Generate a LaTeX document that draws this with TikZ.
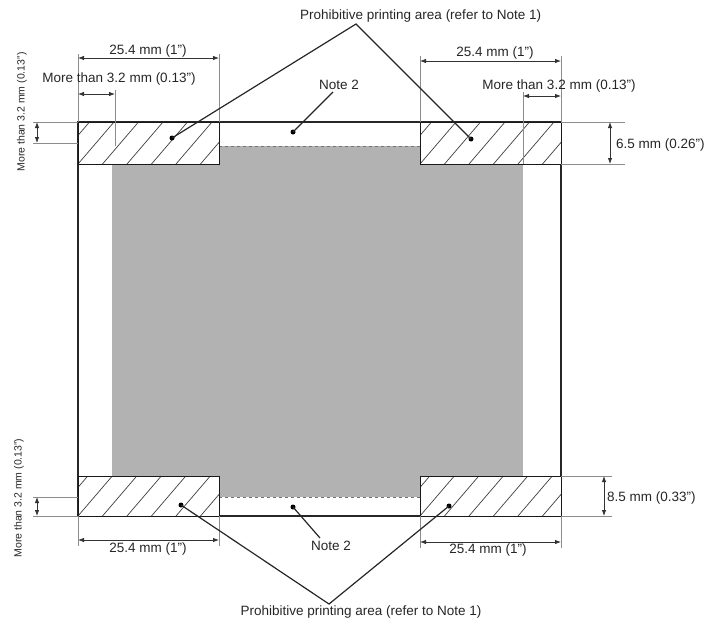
\documentclass[tikz,border=0pt]{standalone}
\usepackage{fontspec}
\setmainfont{Liberation Sans}
\usetikzlibrary{arrows.meta}
\tikzset{
  ext/.style={draw=black!45, line width=0.6pt},
  dim/.style={draw=black!80, line width=0.8pt, {Latex[length=6pt,width=4.5pt]}-{Latex[length=6pt,width=4.5pt]}},
  hatch/.style={draw=black!75, line width=0.7pt},
  boxline/.style={draw=black!90, line width=1pt},
  frameline/.style={draw=black!85, line width=1.5pt},
  leader/.style={draw=black!85, line width=1.2pt},
  lbl/.style={font=\fontsize{13.5}{15}\selectfont, text=black!85, inner sep=0pt},
  vlbl/.style={font=\fontsize{10.5}{12}\selectfont, text=black!85, inner sep=0pt, rotate=90},
  spot/.style={circle, fill=black, inner sep=0pt, minimum size=5pt},
}
\newcommand\myhatch[4]{%
  \fill[white] (#1,#2) rectangle (#3,#4);
  \begin{scope}
    \clip (#1,#2) rectangle (#3,#4);
    \foreach \i in {-2,...,7} \draw[hatch] ({#1+24.5*\i},#4) -- ++(36,-42);
  \end{scope}
  \draw[boxline] (#1,#2) rectangle (#3,#4);}
\begin{document}
\begin{tikzpicture}[x=1pt,y=-1pt]
\useasboundingbox (0,0) rectangle (708,621);
% printable (gray) area
\fill[black!30] (112,146) rectangle (523,497);
\draw[black!55, dashed, line width=0.8pt] (219,146) -- (420,146);
\draw[black!55, dashed, line width=0.8pt] (219,497) -- (420,497);
% frame
\draw[frameline] (78,122) rectangle (561,516);
% prohibitive boxes
\myhatch{78}{122}{219}{164}
\myhatch{420}{122}{561}{164}
\myhatch{78}{476}{219}{516}
\myhatch{420}{476}{561}{516}
% ---- top-left dimensions
\draw[ext] (78,54) -- (78,122);
\draw[ext] (219,54) -- (219,122);
\draw[dim] (78,58) -- (219,58);
\node[lbl] (tlw) at (148,51) {25.4 mm (1")};
\draw[ext] (115,90) -- (115,146);
\draw[dim] (78,94) -- (115,94);
\node[lbl] (tlm) at (119,79) {More than 3.2 mm (0.13")};
\draw[ext] (33,122) -- (78,122);
\draw[ext] (33,143) -- (78,143);
\draw[dim] (37,122) -- (37,143);
\node[vlbl] (tlv) at (22,112) {More than 3.2 mm (0.13")};
% ---- top-right dimensions
\draw[ext] (420,56) -- (420,122);
\draw[ext] (561,56) -- (561,122);
\draw[dim] (420,61) -- (561,61);
\node[lbl] (trw) at (495,53) {25.4 mm (1")};
\draw[ext] (523,92) -- (523,164);
\draw[dim] (523,96) -- (561,96);
\node[lbl] (trm) at (559,86) {More than 3.2 mm (0.13")};
\draw[ext] (561,122) -- (625,122);
\draw[ext] (561,164) -- (625,164);
\draw[dim] (610,122) -- (610,164);
\node[lbl, anchor=west] (trh) at (616,145) {6.5 mm (0.26")};
% ---- bottom-left dimensions
\draw[ext] (33,497) -- (78,497);
\draw[ext] (33,516) -- (78,516);
\draw[dim] (37,497) -- (37,516);
\node[vlbl] (blv) at (19,498) {More than 3.2 mm (0.13")};
\draw[ext] (78,516) -- (78,546);
\draw[ext] (219,516) -- (219,546);
\draw[dim] (78,540) -- (219,540);
\node[lbl] (blw) at (148,549) {25.4 mm (1")};
% ---- bottom-right dimensions
\draw[ext] (420,516) -- (420,548);
\draw[ext] (561,516) -- (561,548);
\draw[dim] (420,542) -- (561,542);
\node[lbl] (brw) at (488,550) {25.4 mm (1")};
\draw[ext] (561,476) -- (612,476);
\draw[ext] (561,516) -- (612,516);
\draw[dim] (604,476) -- (604,516);
\node[lbl, anchor=west] (brh) at (607,498) {8.5 mm (0.33")};
% ---- leaders and notes
\node[spot] (d1) at (172,138) {};
\node[spot] (d2) at (471,139) {};
\node[spot] (d3) at (181,505) {};
\node[spot] (d4) at (449,506) {};
\node[spot] (n1) at (293,132) {};
\node[spot] (n2) at (293,507) {};
\coordinate (apt) at (356,24);
\coordinate (apb) at (329,604);
\node[lbl, anchor=west] (ptop) at (300,16) {Prohibitive printing area (refer to Note 1)};
\node[lbl] (pbot) at (361,612) {Prohibitive printing area (refer to Note 1)};
\draw[leader] (d1.center) -- (apt) -- (d2.center);
\draw[leader] (d3.center) -- (apb) -- (d4.center);
\node[lbl] (note2t) at (339,85) {Note 2};
\node[lbl] (note2b) at (331,546) {Note 2};
\coordinate (l1) at (333,92);
\coordinate (l2) at (320,538);
\draw[leader] (n1.center) -- (l1);
\draw[leader] (n2.center) -- (l2);
\end{tikzpicture}
\end{document}
